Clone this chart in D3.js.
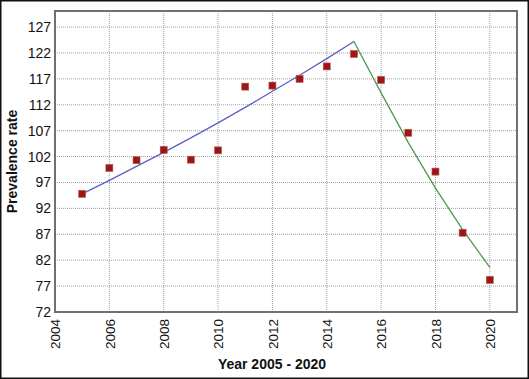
<!DOCTYPE html>
<html><head><meta charset="utf-8">
<script src="https://cdn.jsdelivr.net/npm/d3@7"></script>
<style>body{margin:0;background:#fff}svg{display:block;font-family:"Liberation Sans",Arial,sans-serif}</style>
</head><body>
<script>
const years = [2005,2006,2007,2008,2009,2010,2011,2012,2013,2014,2015,2016,2017,2018,2019,2020];
const observed = [94.8,99.8,101.3,103.3,101.4,103.2,115.5,115.7,117.0,119.4,121.8,116.8,106.6,99.1,87.3,78.2];
const fitYears1 = [2005,2006,2007,2008,2009,2010,2011,2012,2013,2014,2015];
const fitValues1 = [94.8,97.4,100.1,102.8,105.6,108.5,111.5,114.6,117.7,120.9,124.2];
const fitYears2 = [2015,2016,2017,2018,2019,2020];
const fitValues2 = [124.2,114.3,104.7,95.9,87.9,80.6];
const yTicks = [72,77,82,87,92,97,102,107,112,117,122,127];
const xTicks = [2004,2006,2008,2010,2012,2014,2016,2018,2020];

const W=529,H=379;
const svg=d3.select("body").append("svg").attr("width",W).attr("height",H);
svg.append("rect").attr("x",0.75).attr("y",0.75).attr("width",W-1.5).attr("height",H-1.5).attr("fill","#fff").attr("stroke","#111").attr("stroke-width",1.5);

const L=55,T=11,R=517,B=312;
const x=d3.scaleLinear().domain([2004,2021]).range([L,R]);
const y=d3.scaleLinear().domain([72,130.1]).range([B,T]);

// grid
const g=svg.append("g");
g.selectAll("line.gy").data(yTicks.slice(1)).join("line")
 .attr("x1",L).attr("x2",R).attr("y1",d=>y(d)).attr("y2",d=>y(d))
 .attr("stroke","#a0a0a0").attr("stroke-dasharray","1,1").attr("stroke-width",1);
g.selectAll("line.gx").data(xTicks.slice(1)).join("line")
 .attr("y1",T).attr("y2",B).attr("x1",d=>x(d)).attr("x2",d=>x(d))
 .attr("stroke","#a0a0a0").attr("stroke-dasharray","1,1").attr("stroke-width",1);

// frame
svg.append("rect").attr("x",L).attr("y",T).attr("width",R-L).attr("height",B-T)
 .attr("fill","none").attr("stroke","#707070").attr("stroke-width",2);

// axes
const ya=svg.append("g").attr("transform",`translate(${L},0)`)
 .call(d3.axisLeft(y).tickValues(yTicks).tickSize(0).tickPadding(4));
ya.select(".domain").remove();
ya.selectAll("text").attr("font-size",14).attr("fill","#111").attr("font-family","Liberation Sans, Arial, sans-serif");

const xa=svg.append("g").attr("transform",`translate(0,${B})`)
 .call(d3.axisBottom(x).tickValues(xTicks).tickFormat(d3.format("d")).tickSize(0));
xa.select(".domain").remove();
xa.selectAll("text").attr("font-size",13.5).attr("fill","#111").attr("font-family","Liberation Sans, Arial, sans-serif")
 .attr("transform","rotate(-90)").attr("text-anchor","end").attr("dy","0.35em").attr("x",-7).attr("y",0);

// lines
const line=d3.line().x(d=>x(d[0])).y(d=>y(d[1]));
svg.append("path").datum(fitYears1.map((d,i)=>[d,fitValues1[i]])).attr("d",line)
 .attr("fill","none").attr("stroke","#5b5fc7").attr("stroke-width",1.3);
svg.append("path").datum(fitYears2.map((d,i)=>[d,fitValues2[i]])).attr("d",line)
 .attr("fill","none").attr("stroke","#4e9a4e").attr("stroke-width",1.3);

// markers
svg.selectAll("rect.pt").data(years.map((d,i)=>[d,observed[i]])).join("rect")
 .attr("x",d=>x(d[0])-3.5).attr("y",d=>y(d[1])-3.5).attr("width",7).attr("height",7)
 .attr("fill","#981818").attr("stroke","#c05050").attr("stroke-width",0.6);

// titles
svg.append("text").attr("x",272).attr("y",369).attr("text-anchor","middle")
 .attr("font-weight","bold").attr("font-size",14).attr("fill","#111").text("Year 2005 - 2020");
svg.append("text").attr("transform",`translate(17,${(T+B)/2}) rotate(-90)`).attr("text-anchor","middle")
 .attr("font-weight","bold").attr("font-size",14).attr("fill","#111").text("Prevalence rate");
</script>
</body></html>
